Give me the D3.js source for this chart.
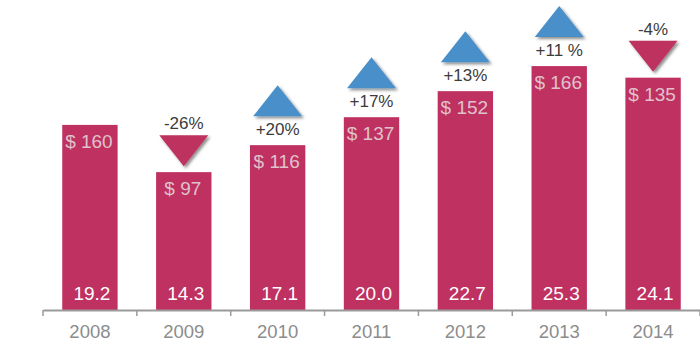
<!DOCTYPE html>
<html>
<head>
<meta charset="utf-8">
<script src="https://cdn.jsdelivr.net/npm/d3@7"></script>
<style>
  body { margin: 0; background: #fff; }
  text { font-family: "Liberation Sans", Arial, sans-serif; }
</style>
</head>
<body>
<div id="chart"></div>
<script>
// data
const years = ["2008", "2009", "2010", "2011", "2012", "2013", "2014"];
const prices = [160, 97, 116, 137, 152, 166, 135];
const volumes = [19.2, 14.3, 17.1, 20.0, 22.7, 25.3, 24.1];
const changeLabels = [null, "-26%", "+20%", "+17%", "+13%", "+11 %", "-4%"];
const changeDir = [0, -1, 1, 1, 1, 1, -1];

const width = 700, height = 353;
const barColor = "#be3160";
const upColor = "#4a90cb";

const svg = d3.select("#chart").append("svg")
  .attr("width", width)
  .attr("height", height);

// drop shadow for the arrows
svg.append("defs").append("filter")
  .attr("id", "shadow")
  .attr("x", "-20%").attr("y", "-20%")
  .attr("width", "150%").attr("height", "150%")
  .append("feDropShadow")
  .attr("dx", 2).attr("dy", 2)
  .attr("stdDeviation", 1.5)
  .attr("flood-color", "#000")
  .attr("flood-opacity", 0.45);

const x = d3.scaleBand()
  .domain(years)
  .range([43, 700])
  .paddingInner(0.41)
  .paddingOuter(0.205);

// bar heights follow the bottom numbers
const y = d3.scaleLinear()
  .domain([0, 32])
  .range([310, 1.5]);

const rows = years.map((yr, i) => ({
  year: yr, price: prices[i], vol: volumes[i], change: changeLabels[i], dir: changeDir[i]
}));

// bars
svg.selectAll("rect.bar")
  .data(rows)
  .enter().append("rect")
  .attr("class", "bar")
  .attr("x", d => x(d.year))
  .attr("y", d => y(d.vol))
  .attr("width", x.bandwidth())
  .attr("height", d => y(0) - y(d.vol))
  .attr("fill", barColor);

// price labels at top of bars
svg.selectAll("text.price")
  .data(rows)
  .enter().append("text")
  .attr("class", "price")
  .attr("x", d => x(d.year) + x.bandwidth() / 2 - 1)
  .attr("y", d => y(d.vol) + 23)
  .attr("text-anchor", "middle")
  .attr("font-size", 19)
  .attr("fill", "#e0c2cd")
  .text(d => "$ " + d.price);

// volume labels at the bottom
svg.selectAll("text.vol")
  .data(rows)
  .enter().append("text")
  .attr("class", "vol")
  .attr("x", d => x(d.year) + x.bandwidth() / 2 + 2)
  .attr("y", y(0) - 10)
  .attr("text-anchor", "middle")
  .attr("font-size", 19)
  .attr("fill", "#fff")
  .text(d => d3.format(".1f")(d.vol));

// change arrows + labels
const triW = 49, triH = 31;
const changes = rows.filter(d => d.change);

const arrows = svg.selectAll("g.change")
  .data(changes)
  .enter().append("g")
  .attr("class", "change")
  .attr("transform", d => `translate(${x(d.year) + x.bandwidth() / 2},0)`);

arrows.each(function(d) {
  const g = d3.select(this);
  const top = y(d.vol);
  if (d.dir > 0) {
    const labelY = top - 10;
    const baseY = labelY - 19;
    g.append("path")
      .attr("d", `M${-triW / 2},${baseY} L0,${baseY - triH} L${triW / 2},${baseY} Z`)
      .attr("fill", upColor)
      .attr("filter", "url(#shadow)");
    g.append("text")
      .attr("y", labelY)
      .attr("text-anchor", "middle")
      .attr("font-size", 17)
      .attr("fill", "#3c3c3c")
      .text(d.change);
  } else {
    const apexY = top - 6;
    const baseY = apexY - triH;
    g.append("path")
      .attr("d", `M${-triW / 2},${baseY} L0,${apexY} L${triW / 2},${baseY} Z`)
      .attr("fill", barColor)
      .attr("filter", "url(#shadow)");
    g.append("text")
      .attr("y", baseY - 6)
      .attr("text-anchor", "middle")
      .attr("font-size", 17)
      .attr("fill", "#3c3c3c")
      .text(d.change);
  }
});

// x axis
const axis = svg.append("g")
  .attr("transform", `translate(0,${y(0)})`)
  .call(d3.axisBottom(x).tickSize(0).tickPadding(15));

axis.select("path.domain")
  .attr("stroke", "#9a9a9a")
  .attr("stroke-width", 2);

axis.selectAll(".tick text")
  .attr("font-size", 18.5)
  .attr("fill", "#8c8c8c")
  .style("font-family", "'Liberation Sans', Arial, sans-serif");

// ticks sit on band boundaries
const step = x.step();
axis.selectAll("line.bound")
  .data(years.map((yr, i) => x.range()[0] + i * step).concat([x.range()[1]]))
  .enter().append("line")
  .attr("class", "bound")
  .attr("x1", d => d).attr("x2", d => d)
  .attr("y1", 0).attr("y2", 6)
  .attr("stroke", "#9a9a9a")
  .attr("stroke-width", 1.5);
</script>
</body>
</html>
